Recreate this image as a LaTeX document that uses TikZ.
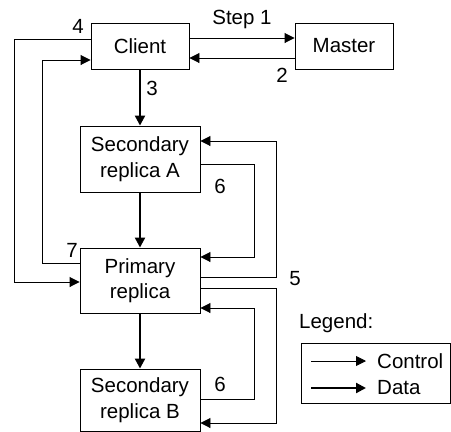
\documentclass[tikz,border=0pt]{standalone}
\usepackage{fontspec}
\setmainfont{Liberation Sans}
\usepackage{tikz}
\usetikzlibrary{arrows.meta}
\tikzset{
  box/.style={draw,line width=0.9pt,inner sep=0pt,align=center,
    font=\fontsize{20.5}{25.5}\selectfont},
  lbl/.style={inner sep=0pt,font=\fontsize{20.5}{24}\selectfont},
  ctrl/.style={line width=0.9pt,-{Triangle[length=10pt,width=10pt]}},
  data/.style={line width=2.2pt,-{Triangle[length=10pt,width=10pt]}}
}
\begin{document}
\begin{tikzpicture}[x=1pt,y=-1pt]
\useasboundingbox (0,0) rectangle (451,432);
% boxes
\node[box,minimum width=98pt,minimum height=46pt] (client) at (140,46) {Client};
\node[box,minimum width=98pt,minimum height=46pt] (master) at (344,46) {Master};
\node[box,minimum width=120pt,minimum height=66pt] (secA) at (140,159) {Secondary\\replica A};
\node[box,minimum width=120pt,minimum height=65pt] (prim) at (140,280.5) {Primary\\replica};
\node[box,minimum width=120pt,minimum height=62pt] (secB) at (140,400) {Secondary\\replica B};
% control flow
\draw[ctrl] (client.east |- 0,38) -- (master.west |- 0,38);
\draw[ctrl] (master.west |- 0,58) -- (client.east |- 0,58);
\draw[ctrl] (client.west |- 0,39) -| (14,282) -- (prim.west |- 0,282);
\draw[ctrl] (prim.west |- 0,263) -| (42,60) -- (client.west |- 0,60);
\draw[ctrl] (prim.east |- 0,277) -| (276,141) -- (secA.east |- 0,141);
\draw[ctrl] (secA.east |- 0,164) -| (254,257) -- (prim.east |- 0,257);
\draw[ctrl] (prim.east |- 0,288) -| (276,423) -- (secB.east |- 0,423);
\draw[ctrl] (secB.east |- 0,399) -| (254,308) -- (prim.east |- 0,308);
% data flow
\draw[data] (client) -- (secA);
\draw[data] (secA) -- (prim);
\draw[data] (prim) -- (secB);
% step numbers
\node[lbl] (s1) at (242,19) {Step 1};
\node[lbl] (s2) at (282,75) {2};
\node[lbl] (s3) at (152,88) {3};
\node[lbl] (s4) at (78,26) {4};
\node[lbl] (s5) at (295,279) {5};
\node[lbl] (s6a) at (220,186) {6};
\node[lbl] (s6b) at (220,384) {6};
\node[lbl] (s7) at (72,250) {7};
% legend
\node[lbl,anchor=west] (leg) at (299,323) {Legend:};
\node[draw,line width=0.9pt,minimum width=149pt,minimum height=60pt,inner sep=0pt] (legbox) at (375.5,373) {};
\coordinate (c0) at (311,361);
\coordinate (c1) at (366,361);
\coordinate (d0) at (311,388);
\coordinate (d1) at (366,388);
\draw[ctrl] (c0) -- (c1);
\draw[data] (d0) -- (d1);
\node[lbl,anchor=west] (lc) at (377,361) {Control};
\node[lbl,anchor=west] (ld) at (377,388) {Data};
\end{tikzpicture}
\end{document}
